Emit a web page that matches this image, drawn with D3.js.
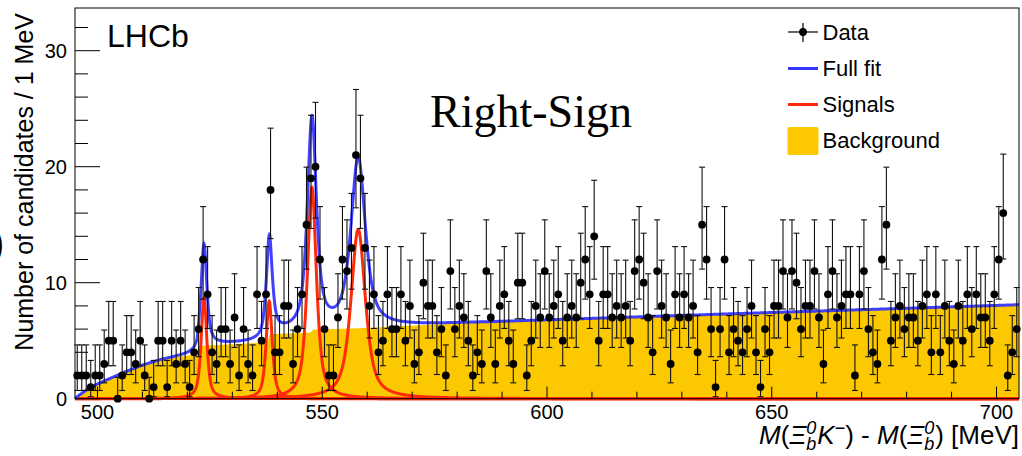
<!DOCTYPE html>
<html>
<head>
<meta charset="utf-8">
<script src="https://cdn.jsdelivr.net/npm/d3@7/dist/d3.min.js"></script>
<style>
  body { margin: 0; background: #fff; }
  svg { display: block; font-family: "Liberation Sans", Arial, sans-serif; }
</style>
</head>
<body>
<svg id="chart" width="1022" height="456"></svg>
<script>
// histogram: 1 MeV bins starting at 495 MeV
var binLow = 495;
var counts = [
  2, 2, 2, 1, 2, 2, 3, 5, 5, 0,
  2, 4, 4, 3, 5, 2, 0, 1, 5, 5,
  1, 5, 3, 5, 3, 1, 4, 6, 12, 9,
  4, 3, 6, 6, 3, 7, 2, 6, 3, 2,
  9, 5, 9, 18, 4, 4, 8, 8, 3, 6,
  9, 15, 19, 20, 12, 6, 2, 2, 7, 12,
  11, 13, 21, 19, 13, 8, 9, 4, 5, 9,
  6, 6, 9, 5, 8, 3, 4, 10, 8, 8,
  4, 6, 2, 11, 6, 8, 7, 5, 2, 4,
  3, 11, 7, 3, 8, 9, 5, 3, 10, 10,
  2, 5, 8, 7, 11, 7, 8, 9, 5, 7,
  8, 7, 10, 12, 9, 14, 5, 9, 9, 7,
  8, 7, 8, 5, 11, 12, 10, 7, 4, 11,
  8, 7, 3, 9, 7, 9, 7, 8, 4, 15,
  12, 6, 1, 6, 12, 4, 6, 5, 4, 6,
  8, 4, 1, 6, 4, 8, 8, 11, 7, 11,
  10, 6, 8, 8, 11, 7, 3, 9, 11, 7,
  8, 9, 9, 2, 9, 11, 6, 4, 3, 12,
  15, 5, 7, 8, 6, 7, 7, 5, 8, 9,
  4, 9, 4, 8, 5, 3, 8, 5, 9, 6,
  9, 7, 7, 5, 9, 12, 16, 2, 4, 6
];

// background component
var bgMass  = [495, 496, 498, 500, 503, 506, 510, 514, 518, 522.2, 522.7, 530, 537.8, 538.3, 544, 547.4, 548.0, 552, 560, 570, 581, 602, 640, 705];
var bgLevel = [0, 0.3, 0.85, 1.25, 1.75, 2.25, 2.85, 3.3, 3.6, 3.85, 4.55, 4.7, 4.85, 5.55, 5.65, 5.7, 5.95, 6.0, 6.1, 6.3, 6.5, 6.8, 7.3, 8.1];

// signal peaks (position, height, full width at half max)
var peakMass   = [523.7, 538.2, 547.7, 558.0];
var peakHeight = [8.7, 8.4, 18.2, 14.6];
var peakFwhm   = [1.5, 1.6, 2.4, 3.8];
var lorentzFrac = 0.7;

var xTicks = [500, 550, 600, 650, 700];
var yTicks = [0, 10, 20, 30];

var svg = d3.select("#chart");

var x = d3.scaleLinear().domain([495, 705]).range([75, 1019]);
var y = d3.scaleLinear().domain([0, 33.68]).range([398.7, 8]);

function bgAt(m) {
  var j = d3.bisectRight(bgMass, m) - 1;
  if (j < 0) return bgLevel[0];
  if (j >= bgMass.length - 1) return bgLevel[bgLevel.length - 1];
  var t = (m - bgMass[j]) / (bgMass[j + 1] - bgMass[j]);
  return bgLevel[j] + t * (bgLevel[j + 1] - bgLevel[j]);
}
function peakAt(k, m) {
  var u = (m - peakMass[k]) / (peakFwhm[k] / 2);
  return peakHeight[k] * (lorentzFrac / (1 + u * u) + (1 - lorentzFrac) * Math.exp(-Math.LN2 * u * u));
}

var grid = d3.range(495, 705.001, 0.05);

// poisson (Garwood) intervals for the error bars
function poisCdf(n, mu) {
  var term = Math.exp(-mu), s = term;
  for (var k = 1; k <= n; k++) { term *= mu / k; s += term; }
  return s;
}
function solve(f, target, lo, hi) {
  for (var it = 0; it < 60; it++) {
    var mid = (lo + hi) / 2;
    if (f(mid) > target) lo = mid; else hi = mid;
  }
  return (lo + hi) / 2;
}
var alpha = 0.158655;
var points = counts.map(function(n, i) {
  var up = solve(function(mu) { return poisCdf(n, mu); }, alpha, 0, n + 30);
  var lo = n === 0 ? 0 : solve(function(mu) { return poisCdf(n - 1, mu); }, 1 - alpha, 0, n + 30);
  return { m: binLow + i + 0.5, n: n, lo: lo, hi: up };
});

// background fill
svg.append("path")
  .datum(grid)
  .attr("fill", "#fcc800")
  .attr("d", d3.area().x(function(m) { return x(m); }).y0(y(0)).y1(function(m) { return y(bgAt(m)); }));

// signals, one curve each
peakMass.forEach(function(pm, k) {
  svg.append("path")
    .datum(grid)
    .attr("fill", "none")
    .attr("stroke", "#ff2a0a")
    .attr("stroke-width", 3)
    .attr("d", d3.line().x(function(m) { return x(m); }).y(function(m) { return y(peakAt(k, m)); }));
});

// full fit
svg.append("path")
  .datum(grid)
  .attr("fill", "none")
  .attr("stroke", "#3636ff")
  .attr("stroke-width", 3)
  .attr("stroke-opacity", 0.95)
  .attr("d", d3.line().x(function(m) { return x(m); }).y(function(m) {
    var s = bgAt(m);
    for (var k = 0; k < peakMass.length; k++) s += peakAt(k, m);
    return y(s);
  }));

// data
var dg = svg.append("g");
dg.selectAll("line.err").data(points).enter().append("line")
  .attr("x1", function(d) { return x(d.m); }).attr("x2", function(d) { return x(d.m); })
  .attr("y1", function(d) { return y(d.lo); }).attr("y2", function(d) { return y(d.hi); })
  .attr("stroke", "#111").attr("stroke-width", 1.1);
dg.selectAll("line.capT").data(points).enter().append("line")
  .attr("x1", function(d) { return x(d.m) - 3; }).attr("x2", function(d) { return x(d.m) + 3; })
  .attr("y1", function(d) { return y(d.hi); }).attr("y2", function(d) { return y(d.hi); })
  .attr("stroke", "#111").attr("stroke-width", 1.1);
dg.selectAll("line.capB").data(points.filter(function(d) { return d.n > 0; })).enter().append("line")
  .attr("x1", function(d) { return x(d.m) - 3; }).attr("x2", function(d) { return x(d.m) + 3; })
  .attr("y1", function(d) { return y(d.lo); }).attr("y2", function(d) { return y(d.lo); })
  .attr("stroke", "#111").attr("stroke-width", 1.1);
dg.selectAll("circle").data(points).enter().append("circle")
  .attr("cx", function(d) { return x(d.m); })
  .attr("cy", function(d) { return y(d.n); })
  .attr("r", 3.9)
  .attr("fill", "#000");

// axes (ROOT style, ticks inside)
var ax = svg.append("g").attr("stroke", "#000").attr("stroke-width", 1);
d3.range(0, 34, 2).forEach(function(v) {
  var major = v % 10 === 0;
  ax.append("line").attr("x1", 75).attr("x2", 75 + (major ? 25 : 13))
    .attr("y1", y(v)).attr("y2", y(v));
});
d3.range(500, 705, 10).forEach(function(m) {
  var major = m % 50 === 0;
  ax.append("line").attr("x1", x(m)).attr("x2", x(m))
    .attr("y1", y(0)).attr("y2", y(0) - (major ? 12 : 7));
});
ax.append("rect").attr("x", 75).attr("y", 8).attr("width", 944).attr("height", y(0) - 8)
  .attr("fill", "none");

svg.append("g").selectAll("text").data(yTicks).enter().append("text")
  .attr("x", 67).attr("y", function(d) { return y(d); }).attr("dy", "0.36em")
  .attr("text-anchor", "end").attr("font-size", 20).text(function(d) { return d; });
svg.append("g").selectAll("text").data(xTicks).enter().append("text")
  .attr("x", function(d) { return x(d); }).attr("y", 418.5)
  .attr("text-anchor", "middle").attr("font-size", 20).text(function(d) { return d; });

// axis titles
svg.append("text").attr("transform", "translate(33,13) rotate(-90)")
  .attr("text-anchor", "end").attr("font-size", 25).text("Number of candidates / 1 MeV");

var xt = svg.append("text").attr("x", 1019).attr("y", 443.5).attr("text-anchor", "end").attr("font-size", 26);
xt.append("tspan").attr("font-style", "italic").text("M");
xt.append("tspan").text("(");
xt.append("tspan").attr("font-style", "italic").text("\u039E");
xt.append("tspan").attr("font-style", "italic").attr("font-size", 18).attr("dy", 6).text("b");
xt.append("tspan").attr("font-style", "italic").attr("font-size", 18).attr("dx", -10).attr("dy", -16).text("0");
xt.append("tspan").attr("font-style", "italic").attr("dy", 10).attr("dx", 1).text("K");
xt.append("tspan").attr("font-size", 18).attr("dy", -10).text("\u2212");
xt.append("tspan").attr("dy", 10).text(") - ");
xt.append("tspan").attr("font-style", "italic").text("M");
xt.append("tspan").text("(");
xt.append("tspan").attr("font-style", "italic").text("\u039E");
xt.append("tspan").attr("font-style", "italic").attr("font-size", 18).attr("dy", 6).text("b");
xt.append("tspan").attr("font-style", "italic").attr("font-size", 18).attr("dx", -10).attr("dy", -16).text("0");
xt.append("tspan").attr("dy", 10).attr("dx", 1).text(") [MeV]");

// labels
svg.append("text").attr("x", 107).attr("y", 46.5).attr("font-size", 32).text("LHCb");
svg.append("text").attr("x", 430).attr("y", 127).attr("font-size", 46)
  .attr("font-family", "'Liberation Serif', 'Times New Roman', serif").text("Right-Sign");
svg.append("text").attr("x", -9).attr("y", 257).attr("font-size", 40).text(")");

// legend
var lg = svg.append("g");
lg.append("line").attr("x1", 788).attr("x2", 818).attr("y1", 32).attr("y2", 32).attr("stroke", "#000").attr("stroke-width", 1.2);
lg.append("line").attr("x1", 803).attr("x2", 803).attr("y1", 23).attr("y2", 42).attr("stroke", "#000").attr("stroke-width", 1.2);
lg.append("circle").attr("cx", 803).attr("cy", 32).attr("r", 3.9).attr("fill", "#000");
lg.append("line").attr("x1", 788).attr("x2", 818).attr("y1", 68.5).attr("y2", 68.5).attr("stroke", "#3636ff").attr("stroke-width", 3);
lg.append("line").attr("x1", 788).attr("x2", 818).attr("y1", 104.5).attr("y2", 104.5).attr("stroke", "#ff2a0a").attr("stroke-width", 3);
lg.append("rect").attr("x", 787.5).attr("y", 127).attr("width", 31).attr("height", 28).attr("rx", 2).attr("fill", "#fcc800");
var legendText = ["Data", "Full fit", "Signals", "Background"];
lg.selectAll("text").data(legendText).enter().append("text")
  .attr("x", 822.5).attr("y", function(d, i) { return 39.5 + i * 36.3; })
  .attr("font-size", 22).text(function(d) { return d; });
</script>
</body>
</html>
